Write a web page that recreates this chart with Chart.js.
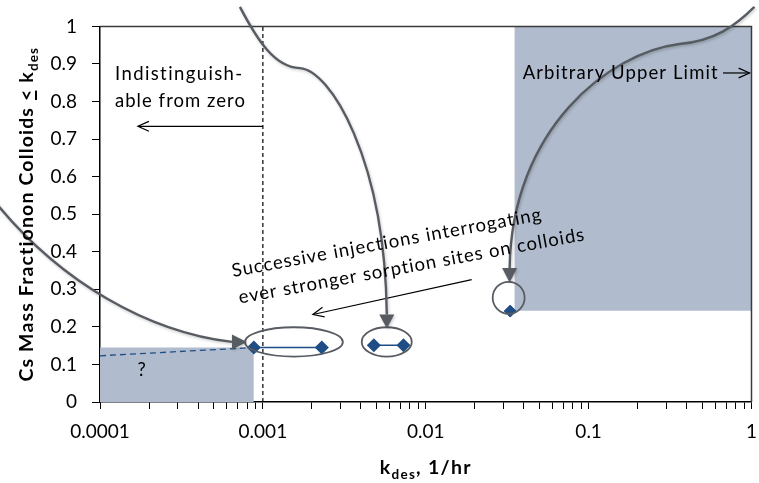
<!DOCTYPE html>
<html><head><meta charset="utf-8">
<script src="https://cdn.jsdelivr.net/npm/chart.js@4.4.1/dist/chart.umd.min.js"></script>
<style>html,body{margin:0;padding:0;background:#fff}canvas{display:block}</style>
</head><body>
<canvas id="c" width="759" height="483"></canvas>
<script>
const FONT = 'Lato, "Open Sans", sans-serif';

// ---- data ----
const xDecades = [0.0001, 0.001, 0.01, 0.1, 1];
const xTickLabels = ['0.0001', '0.001', '0.01', '0.1', '1'];
const yTickLabels = ['0', '0.1', '0.2', '0.3', '0.4', '0.5', '0.6', '0.7', '0.8', '0.9', '1'];

const injection1X = [0.00088, 0.0023];
const injection1Y = [0.145, 0.145];
const injection2X = [0.0048, 0.0073];
const injection2Y = [0.151, 0.151];
const injection3X = [0.033];
const injection3Y = [0.242];

const extrapX = [0.0001, 0.00088];
const extrapY = [0.123, 0.145];

const lowBoxX = [0.0001, 0.00088];
const lowBoxTop = [0.145, 0.145];
const highBoxX = [0.035, 1];
const highBoxTop = [1, 1];
const highBoxBottom = 0.243;

const detectionLimitX = [0.001, 0.001];
const detectionLimitY = [0, 1];

const zip = (xs, ys) => xs.map((x, i) => ({x: x, y: ys[i]}));

const BLUE = '#1f4e86';
const GRAY = '#575b62';
const BOX = '#b0bccd';

// set letter spacing so that text spans a target width (px)
const fitSpacing = (ctx, parts, target) => {
  ctx.letterSpacing = '0px';
  let w0 = 0, n = 0;
  parts.forEach(q => { ctx.font = q[1]; w0 += ctx.measureText(q[0]).width; n += [...q[0]].length; });
  ctx.letterSpacing = ((target - w0) / n).toFixed(2) + 'px';
};

const annot = {
  id: 'annot',
  afterDatasetsDraw(chart) {
    const ctx = chart.ctx, xs = chart.scales.x, ys = chart.scales.y, a = chart.chartArea;
    const P = (e, v) => [xs.getPixelForValue(Math.pow(10, e)), ys.getPixelForValue(v)];
    ctx.save();
    // plot border top / right
    ctx.strokeStyle = '#3a3a3a'; ctx.lineWidth = 1.5;
    ctx.beginPath(); ctx.moveTo(a.left, a.top); ctx.lineTo(a.right, a.top); ctx.lineTo(a.right, a.bottom); ctx.stroke();

    // ellipses
    const ellipses = [[-3.110, -2.509, 0.121, 0.199], [-2.393, -2.086, 0.121, 0.199], [-1.589, -1.393, 0.235, 0.320]];
    ctx.strokeStyle = GRAY; ctx.lineWidth = 1.8;
    ellipses.forEach(b => {
      const p1 = P(b[0], b[3]), p2 = P(b[1], b[2]);
      ctx.beginPath();
      ctx.ellipse((p1[0] + p2[0]) / 2, (p1[1] + p2[1]) / 2, (p2[0] - p1[0]) / 2, (p2[1] - p1[1]) / 2, 0, 0, Math.PI * 2);
      ctx.stroke();
    });

    // straight open arrows
    const openArrow = (from, to) => {
      ctx.strokeStyle = '#000'; ctx.lineWidth = 1.2;
      ctx.beginPath(); ctx.moveTo(from[0], from[1]); ctx.lineTo(to[0], to[1]); ctx.stroke();
      const ang = Math.atan2(to[1] - from[1], to[0] - from[0]);
      const L = 12, w = 0.42;
      ctx.beginPath();
      ctx.moveTo(to[0] - L * Math.cos(ang - w), to[1] - L * Math.sin(ang - w));
      ctx.lineTo(to[0], to[1]);
      ctx.lineTo(to[0] - L * Math.cos(ang + w), to[1] - L * Math.sin(ang + w));
      ctx.stroke();
    };
    openArrow(P(-3, 0.734), P(-3.767, 0.734));
    openArrow(P(-1.718, 0.326), P(-2.693, 0.233));
    openArrow(P(-0.175, 0.876), P(-0.012, 0.876));

    // curved callout arrows
    const curve = (segs, tip) => {
      ctx.save();
      ctx.shadowColor = 'rgba(0,0,0,0.22)'; ctx.shadowBlur = 3; ctx.shadowOffsetX = 1; ctx.shadowOffsetY = 1.5;
      ctx.strokeStyle = GRAY; ctx.fillStyle = GRAY; ctx.lineWidth = 2.4;
      ctx.beginPath();
      const s = P(segs[0][0], segs[0][1]);
      ctx.moveTo(s[0], s[1]);
      let last = s;
      for (let i = 1; i < segs.length; i += 3) {
        const c1 = P(segs[i][0], segs[i][1]), c2 = P(segs[i + 1][0], segs[i + 1][1]), e = P(segs[i + 2][0], segs[i + 2][1]);
        ctx.bezierCurveTo(c1[0], c1[1], c2[0], c2[1], e[0], e[1]);
        last = e;
      }
      ctx.stroke();
      const t = P(tip[0], tip[1]);
      const ang = Math.atan2(t[1] - last[1], t[0] - last[0]);
      const hw = 7.5;
      ctx.beginPath();
      ctx.moveTo(t[0], t[1]);
      ctx.lineTo(last[0] + hw * Math.sin(ang), last[1] - hw * Math.cos(ang));
      ctx.lineTo(last[0] - hw * Math.sin(ang), last[1] + hw * Math.cos(ang));
      ctx.closePath(); ctx.fill();
      ctx.restore();
    };
    curve([[-4.663, 0.543], [-4.245, 0.315], [-3.693, 0.186], [-3.190, 0.160]], [-3.098, 0.160]);
    curve([[-3.141, 1.052], [-3.031, 0.961], [-2.926, 0.891], [-2.773, 0.889],
           [-2.589, 0.884], [-2.252, 0.651], [-2.239, 0.233]], [-2.239, 0.196]);
    curve([[0.018, 1.052], [-0.104, 1.0], [-0.227, 0.961], [-0.442, 0.953],
           [-0.871, 0.930], [-1.472, 0.729], [-1.485, 0.357]], [-1.485, 0.318]);

    // texts
    const f = '18.5px ' + FONT;
    ctx.fillStyle = '#000';
    ctx.textBaseline = 'alphabetic'; ctx.textAlign = 'left';
    const txt = (s, e, v, target) => { fitSpacing(ctx, [[s, f]], target); const p = P(e, v); ctx.fillText(s, p[0], p[1]); };
    txt('Indistinguish-', -3.908, 0.858, 129);
    txt('able from zero', -3.908, 0.786, 131);
    txt('Arbitrary Upper Limit', -1.405, 0.860, 196);
    ctx.letterSpacing = '0px'; ctx.font = f; ctx.textAlign = 'center';
    let p = P(-3.744, 0.070); ctx.fillText('?', p[0], p[1]);
    ctx.textAlign = 'left';
    p = P(-3.184, 0.333);
    ctx.save();
    ctx.translate(p[0], p[1]);
    ctx.rotate(-10.4 * Math.PI / 180);
    fitSpacing(ctx, [['Successive injections interrogating', f]], 316);
    ctx.fillText('Successive injections interrogating', 0, 0);
    fitSpacing(ctx, [['ever stronger sorption sites on colloids', f]], 352);
    ctx.fillText('ever stronger sorption sites on colloids', 2, 27.5);
    ctx.restore();
    ctx.restore();
  },
  afterDraw(chart) {
    const ctx = chart.ctx, a = chart.chartArea;
    ctx.save();
    ctx.fillStyle = '#000';
    ctx.textBaseline = 'alphabetic'; ctx.textAlign = 'left';
    const big = 'bold 19.5px ' + FONT, sub = 'bold 13.5px ' + FONT;
    const measure = parts => parts.reduce((s, q) => { ctx.font = q[1]; return s + ctx.measureText(q[0]).width; }, 0);
    // x title
    const xParts = [['k', big, 0], ['des', sub, 5], [', 1/hr', big, 0]];
    fitSpacing(ctx, xParts, 92);
    let w = measure(xParts);
    let x = (a.left + a.right) / 2 - w / 2, y = 474;
    xParts.forEach(q => { ctx.font = q[1]; ctx.fillText(q[0], x, y + q[2]); x += ctx.measureText(q[0]).width; });
    // y title
    const yParts = [['Cs Mass Fractionon Colloids ', big, 0], ['<', big, 0, true], [' k', big, 0], ['des', sub, 5]];
    fitSpacing(ctx, yParts, 335);
    w = measure(yParts);
    ctx.translate(33, (a.top + a.bottom) / 2);
    ctx.rotate(-Math.PI / 2);
    x = -w / 2;
    yParts.forEach(q => {
      ctx.font = q[1];
      const tw = ctx.measureText(q[0]).width;
      ctx.fillText(q[0], x, q[2]);
      if (q[3]) { ctx.fillRect(x + 1, 2, tw - 3, 2); }
      x += tw;
    });
    ctx.restore();
  }
};

new Chart(document.getElementById('c'), {
  type: 'scatter',
  data: {
    datasets: [
      {data: zip(highBoxX, highBoxTop), showLine: true, fill: {value: highBoxBottom}, backgroundColor: BOX, borderWidth: 0, pointRadius: 0, order: 10},
      {data: zip(lowBoxX, lowBoxTop), showLine: true, fill: 'origin', backgroundColor: BOX, borderWidth: 0, pointRadius: 0, order: 9},
      {data: zip(detectionLimitX, detectionLimitY), showLine: true, borderColor: '#000', borderWidth: 1.2, borderDash: [4, 3], pointRadius: 0, order: 8},
      {data: zip(extrapX, extrapY), showLine: true, borderColor: BLUE, borderWidth: 1.3, borderDash: [6, 4], pointRadius: 0, order: 7},
      {data: zip(injection1X, injection1Y), showLine: true, borderColor: BLUE, borderWidth: 1.5, pointStyle: 'rectRot', pointRadius: 6, backgroundColor: BLUE, pointBorderColor: BLUE, order: 1},
      {data: zip(injection2X, injection2Y), showLine: true, borderColor: BLUE, borderWidth: 1.5, pointStyle: 'rectRot', pointRadius: 6, backgroundColor: BLUE, pointBorderColor: BLUE, order: 1},
      {data: zip(injection3X, injection3Y), showLine: false, pointStyle: 'rectRot', pointRadius: 6, backgroundColor: BLUE, pointBorderColor: BLUE, order: 1}
    ]
  },
  options: {
    responsive: false, animation: false, devicePixelRatio: 1,
    layout: {padding: {top: 15, right: 6, left: 0, bottom: 0}},
    plugins: {legend: {display: false}, tooltip: {enabled: false}},
    scales: {
      x: {
        type: 'logarithmic', min: xDecades[0], max: xDecades[xDecades.length - 1],
        afterBuildTicks: s => {
          const t = [];
          for (let d = 0; d < xDecades.length - 1; d++) for (let k = 1; k < 10; k++) t.push({value: xDecades[d] * k});
          t.push({value: xDecades[xDecades.length - 1]});
          s.ticks = t;
        },
        ticks: {
          autoSkip: false, maxRotation: 0, minRotation: 0, padding: 11, color: '#000',
          font: {family: FONT, size: 19},
          callback: v => { const i = xDecades.findIndex(d => Math.abs(d - v) / d < 1e-6); return i >= 0 ? xTickLabels[i] : ''; }
        },
        grid: {drawOnChartArea: false, tickLength: 7, color: '#000', lineWidth: 1},
        border: {color: '#000', width: 1.5},
        afterFit: s => { s.height = 81; s.paddingRight = 0; s.paddingLeft = 0; }
      },
      y: {
        min: 0, max: 1,
        ticks: {stepSize: 0.1, padding: 15, color: '#000', font: {family: FONT, size: 19},
          callback: (v, i) => yTickLabels[i]},
        grid: {drawOnChartArea: false, tickLength: 8, color: '#000', lineWidth: 1},
        border: {color: '#000', width: 1.5},
        afterFit: s => { s.width = 100; }
      }
    }
  },
  plugins: [annot]
});
</script>
</body></html>
